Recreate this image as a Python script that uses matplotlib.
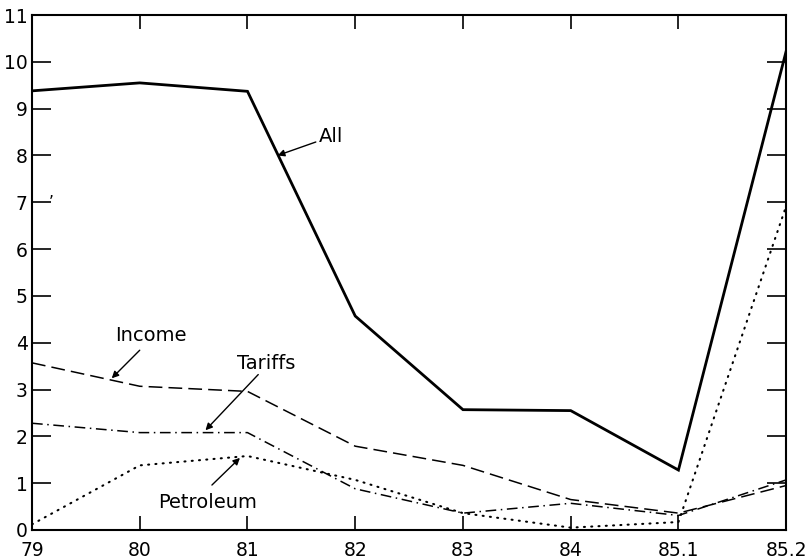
import numpy as np
import matplotlib
matplotlib.use('Agg')
import matplotlib.pyplot as plt

years = ['79', '80', '81', '82', '83', '84', '85.1', '85.2']
all_vals = [9.38, 9.55, 9.37, 4.57, 2.57, 2.55, 1.28, 10.23]
income = [3.57, 3.07, 2.96, 1.79, 1.38, 0.65, 0.36, 0.95]
tariffs = [2.28, 2.08, 2.08, 0.88, 0.36, 0.57, 0.31, 1.07]
petroleum = [0.12, 1.38, 1.58, 1.07, 0.36, 0.05, 0.17, 6.92]

plt.rcParams['font.family'] = ['DejaVu Sans']

fig = plt.figure(figsize=(8.08, 5.6), dpi=100)
ax = fig.add_axes([0.0396, 0.0536, 0.9334, 0.9196])

x = np.arange(len(years))
ax.plot(x, all_vals, color='black', lw=2.0, solid_joinstyle='miter')
ax.plot(x, income, color='black', lw=1.1, dashes=(9, 4))
ax.plot(x, tariffs, color='black', lw=1.1, dashes=(7, 3, 1, 3))
ax.plot(x, petroleum, color='black', lw=1.5, dashes=(0.5, 3), dash_capstyle='round')

ax.set_xlim(0, len(years) - 1)
ax.set_ylim(0, 11)
ax.set_xticks(x)
ax.set_xticklabels(years)
ax.set_yticks(range(0, 12))
ax.tick_params(axis='both', direction='in', labelsize=13.5)
ax.tick_params(axis='y', length=14, width=1.2, right=True, pad=3)
ax.tick_params(axis='x', length=10, width=1.2, top=True, pad=8)
for s in ax.spines.values():
    s.set_linewidth(1.5)

fs = 14
arw = dict(arrowstyle='-|>', color='black', lw=1.0, mutation_scale=10, shrinkA=0, shrinkB=0)
ax.annotate('All', xy=(2.28, 8.0), xytext=(2.66, 8.4), fontsize=fs, va='center', ha='left',
            arrowprops=arw)
ax.annotate('', xy=(0.74, 3.24), xytext=(1.0, 3.84), arrowprops=arw)
ax.text(1.1, 4.16, 'Income', fontsize=fs, ha='center', va='center')
ax.annotate('', xy=(1.61, 2.13), xytext=(2.10, 3.32), arrowprops=arw)
ax.text(2.17, 3.55, 'Tariffs', fontsize=fs, ha='center', va='center')
ax.annotate('', xy=(1.93, 1.54), xytext=(1.67, 0.96), arrowprops=arw)
ax.text(1.63, 0.58, 'Petroleum', fontsize=fs, ha='center', va='center')
ax.text(0.18, 7.0, '\u2019', fontsize=11, ha='center', va='center')

fig.savefig('out.png', dpi=100)
